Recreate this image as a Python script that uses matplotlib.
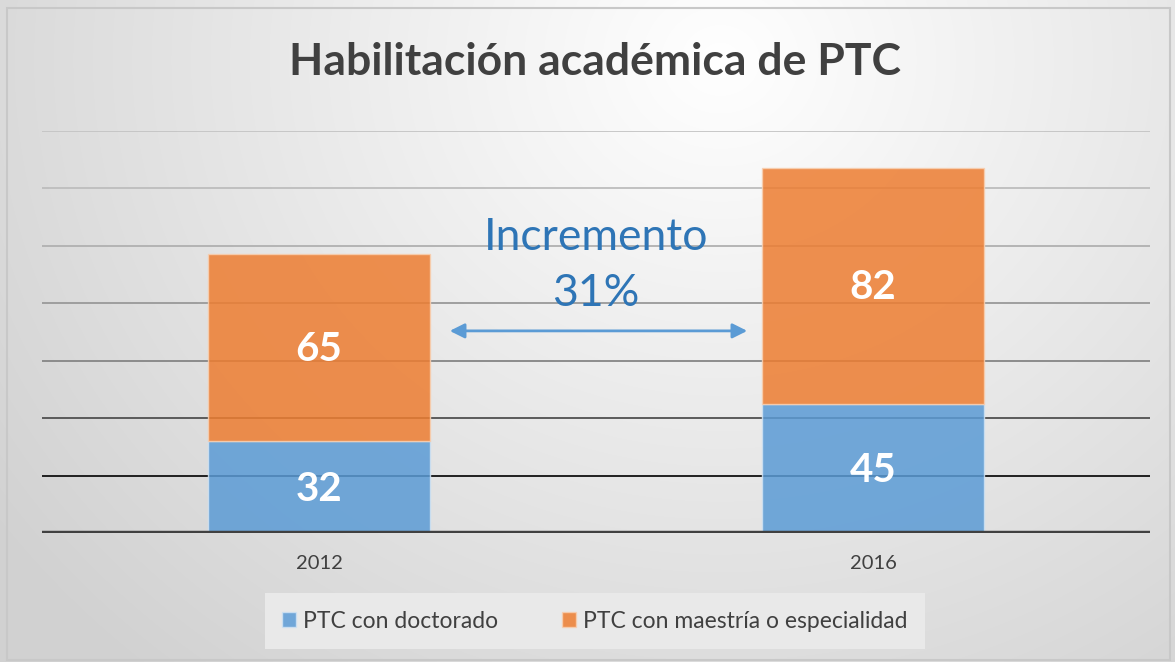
import numpy as np
import matplotlib.pyplot as plt
from matplotlib.patches import Rectangle

# data
years = ["2012", "2016"]
doctorado = [32, 45]
maestria = [65, 82]
series_names = ["PTC con doctorado", "PTC con maestría o especialidad"]
increment_text = "Incremento\n31%"

plt.rcParams["font.family"] = ["Lato", "DejaVu Sans"]

fig = plt.figure(figsize=(11.75, 6.62), dpi=100)

# background gradient
bg = fig.add_axes([0, 0, 1, 1], zorder=-10)
W, H = 1175, 662
xx, yy = np.meshgrid(np.arange(W), np.arange(H))
d = np.sqrt(((xx - 720) / 1.0) ** 2 + ((yy - 60) / 0.9) ** 2) / 900
d = np.clip(d, 0, 1)
shade = 1.0 - 0.18 * d
img = np.dstack([shade, shade, shade])
bg.imshow(img, extent=[0, W, H, 0], aspect="auto")
bg.set_xlim(0, W)
bg.set_ylim(H, 0)
bg.axis("off")
bg.add_patch(Rectangle((7, 8), 1163, 652, fill=False, edgecolor="#c8c8c8", linewidth=1.5))

ax = fig.add_axes([42 / W, 1 - 533 / H, (1150 - 42) / W, (533 - 130.5) / H])
ax.set_facecolor("none")
x = np.arange(len(years))

# gridlines, darker toward the bottom
grid_colors = ["#111111", "#505050", "#858585", "#999999", "#b0b0b0", "#bdbdbd", "#c4c4c4"]
for val, c in zip(range(20, 160, 20), grid_colors):
    ax.axhline(val, color=c, linewidth=1.3, zorder=0)
ax.axhline(0, color="#404040", linewidth=3.2, zorder=3)

ax.bar(x, doctorado, width=0.4, color="#5b9bd5", alpha=0.85, edgecolor="#cfe2f3",
       linewidth=1, label=series_names[0], zorder=2)
ax.bar(x, maestria, width=0.4, bottom=doctorado, color="#ed7d31", alpha=0.85,
       edgecolor="#f8cfb0", linewidth=1, label=series_names[1], zorder=2)

for i in range(len(years)):
    ax.text(x[i], doctorado[i] / 2 - 0.7, str(doctorado[i]), ha="center", va="center",
            color="white", fontsize=29, fontweight="bold", zorder=4)
    ax.text(x[i], doctorado[i] + maestria[i] / 2 - 0.7, str(maestria[i]), ha="center",
            va="center", color="white", fontsize=29, fontweight="bold", zorder=4)

ax.text(0.5, 93, increment_text, ha="center", va="center", color="#2e75b6",
        fontsize=32, linespacing=1.45, zorder=4)
ax.annotate("", xy=(0.231, 70.3), xytext=(0.778, 70.3),
            arrowprops=dict(arrowstyle="<|-|>", color="#5b9bd5", lw=2,
                            mutation_scale=22), zorder=4)

ax.set_xlim(-0.5, 1.5)
ax.set_ylim(0, 140)
ax.set_xticks(x)
ax.set_xticklabels(years, fontsize=14.5, color="#404040")
ax.tick_params(axis="x", length=0, pad=16)
ax.set_yticks([])
for s in ax.spines.values():
    s.set_visible(False)

fig.text(0.506, 1 - 62 / H, "Habilitación académica de PTC", ha="center", va="center",
         fontsize=32, fontweight="bold", color="#404040")

leg = fig.legend(loc="center", bbox_to_anchor=(595 / W, 1 - 621 / H), ncol=2,
                 fontsize=16.5, frameon=True, fancybox=False, facecolor="#e9e9e9",
                 edgecolor="none", framealpha=1, handlelength=0.6, handleheight=0.6,
                 handletextpad=0.3, columnspacing=2.8, borderpad=0.75,
                 borderaxespad=0, labelcolor="#404040")
leg.get_frame().set_boxstyle("square", pad=0)

fig.savefig("out.png", dpi=100)
